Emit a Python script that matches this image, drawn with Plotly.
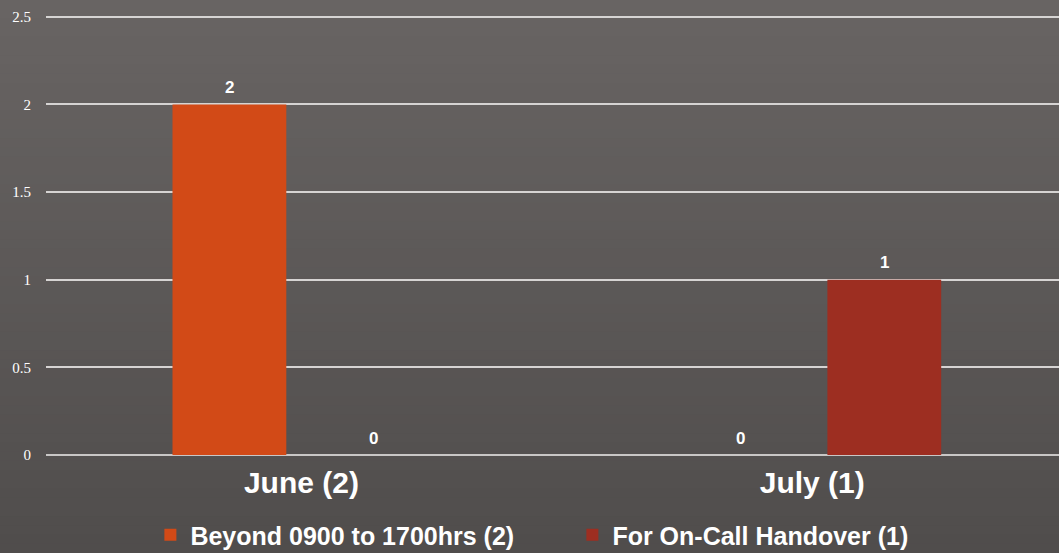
import plotly.graph_objects as go

months = ["June (2)", "July (1)"]
beyond_hours = [2, 0]
oncall_handover = [0, 1]
series_names = ["Beyond 0900 to 1700hrs (2)", "For On-Call Handover (1)"]
series_colors = ["#D24A17", "#9D2E21"]
y_ticks = [0, 0.5, 1, 1.5, 2, 2.5]
y_tick_text = ["0", "0.5", "1", "1.5", "2", "2.5"]

W, H = 1059, 553
M_L, M_R, M_T, M_B = 46, 0, 15, 98
PLOT_H = H - M_T - M_B

label_font = dict(family="Liberation Sans, Arial", size=17, color="white", weight="bold")

fig = go.Figure()
for name, vals, color, shift in zip(series_names, [beyond_hours, oncall_handover], series_colors, [-72, 72]):
    fig.add_trace(go.Bar(
        x=months, y=vals, name=name,
        marker=dict(color=color, line=dict(width=0)),
    ))
    # value labels above each bar
    for m, v in zip(months, vals):
        fig.add_annotation(
            x=m, y=v, text=str(v), showarrow=False,
            xshift=shift, yshift=17, yanchor="middle",
            font=label_font,
        )

# soft vertical shading of the background, lighter at the top
n_bands = 60
top_rgb = (104, 100, 99)
bot_rgb = (80, 77, 76)
y_top = 1 + M_T / PLOT_H
y_bot = -M_B / PLOT_H
for i in range(n_bands):
    t = i / (n_bands - 1)
    r, g, b = (round(top_rgb[k] + (bot_rgb[k] - top_rgb[k]) * t) for k in range(3))
    y1 = y_top + (y_bot - y_top) * i / n_bands
    y0 = y_top + (y_bot - y_top) * (i + 1) / n_bands
    fig.add_shape(
        type="rect", xref="paper", yref="paper",
        x0=-0.1, x1=1.1, y0=y0 - 0.002, y1=y1,
        fillcolor=f"rgb({r},{g},{b})", line=dict(width=0), layer="below",
    )

fig.update_layout(
    width=W, height=H,
    margin=dict(l=M_L, r=M_R, t=M_T, b=M_B, autoexpand=False),
    paper_bgcolor="#5c5958", plot_bgcolor="rgba(0,0,0,0)",
    barmode="group", bargap=0.436, bargroupgap=0.21,
    showlegend=True,
    legend=dict(
        orientation="h", xref="container", yref="container",
        x=0.142, xanchor="left", y=0.0325, yanchor="middle",
        font=dict(family="Liberation Sans, Arial", size=25, color="white", weight="bold"),
        bgcolor="rgba(0,0,0,0)", itemwidth=30, entrywidth=377,
    ),
    xaxis=dict(
        type="category", range=[-0.5, 1.483], automargin=False,
        showgrid=False, showline=False, ticks="", zeroline=False,
        ticklabelstandoff=7,
        tickfont=dict(family="Liberation Sans, Arial", size=30, color="white", weight="bold"),
    ),
    yaxis=dict(
        range=[0, 2.51], tickvals=y_ticks, ticktext=y_tick_text, automargin=False,
        showgrid=True, gridcolor="#d6d4d3", gridwidth=1.5,
        zeroline=True, zerolinecolor="#c9c7c6", zerolinewidth=1.5,
        showline=False, ticks="outside", ticklen=11, tickcolor="rgba(0,0,0,0)",
        tickfont=dict(family="Liberation Serif, Times New Roman", size=15, color="white"),
    ),
)

fig.write_html("out.html")
